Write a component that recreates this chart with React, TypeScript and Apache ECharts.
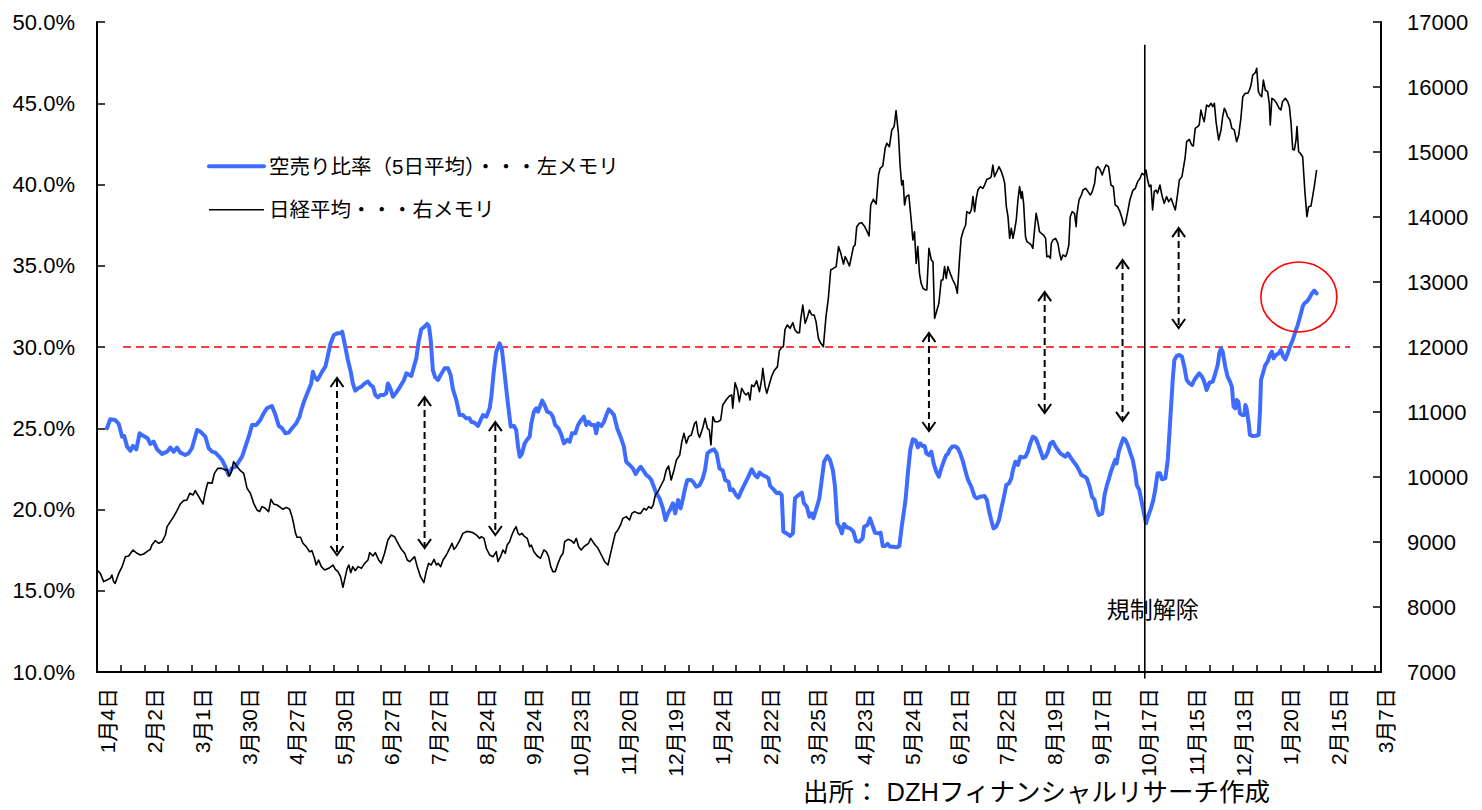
import React, { useEffect, useRef } from "react";
import * as echarts from "echarts";

const FONT = "'Liberation Sans', 'Noto Sans CJK JP', sans-serif";

const NAME_SHORT = "空売り比率（5日平均）・・・左メモリ";
const NAME_NIKKEI = "日経平均・・・右メモリ";
const SOURCE_TEXT = "出所： DZHフィナンシャルリサーチ作成";
const REG_TEXT = "規制解除";

// x axis: trading-day index (0 = 1月4日), one label every 20 trading days
const dateLabels = [
  "1月4日", "2月2日", "3月1日", "3月30日", "4月27日", "5月30日", "6月27日",
  "7月27日", "8月24日", "9月24日", "10月23日", "11月20日", "12月19日", "1月24日",
  "2月22日", "3月25日", "4月23日", "5月24日", "6月21日", "7月22日", "8月19日",
  "9月17日", "10月17日", "11月15日", "12月13日", "1月20日", "2月15日", "3月7日",
];

// 空売り比率（5日平均） [trading-day index, %]
const shortRatio: [number, number][] = [
  [4.2, 25.0], [5.6, 25.55], [7.7, 25.51], [9.2, 25.26], [10.6, 24.48], [11.5, 24.52], [12.7, 23.87], [14.1, 23.62],
  [15.2, 23.91], [16.6, 23.7], [18.0, 24.69], [19.7, 24.52], [21.4, 24.38], [22.5, 24.03], [23.9, 24.18], [25.4, 23.7],
  [27.5, 23.42], [29.6, 23.56], [31.0, 23.81], [32.4, 23.56], [33.8, 23.81], [35.2, 23.5], [37.3, 23.35], [38.7, 23.46],
  [40.1, 23.77], [42.3, 24.89], [43.7, 24.79], [45.8, 24.48], [47.2, 23.77], [48.6, 23.56], [50.0, 23.5], [51.4, 23.29],
  [52.8, 23.05], [54.2, 22.64], [55.6, 22.12], [57.0, 22.54], [58.5, 22.64], [59.9, 22.95], [61.3, 23.25], [62.7, 23.87],
  [64.1, 24.48], [65.5, 25.2], [67.3, 25.2], [69.0, 25.51], [70.4, 25.92], [71.8, 26.23], [73.9, 26.37], [75.4, 25.82],
  [76.8, 25.14], [78.2, 25.0], [79.6, 24.69], [81.0, 24.73], [82.4, 25.0], [84.2, 25.31], [85.6, 25.72], [86.3, 26.12],
  [87.7, 26.74], [89.1, 27.25], [90.5, 27.76], [91.2, 28.48], [91.9, 28.17], [93.1, 27.97], [94.1, 28.22], [95.5, 28.58],
  [96.5, 28.79], [97.6, 29.51], [98.7, 30.23], [100.1, 30.74], [101.5, 30.84], [102.9, 30.84], [103.6, 30.94], [104.6, 30.23],
  [106.0, 29.2], [107.2, 28.48], [108.1, 27.76], [109.1, 27.31], [110.3, 27.46], [111.7, 27.56], [113.1, 27.76], [114.5, 27.87],
  [115.6, 27.66], [116.6, 27.56], [117.6, 27.05], [118.7, 26.9], [119.8, 27.05], [121.2, 27.05], [122.2, 27.15], [122.9, 27.76],
  [124.1, 27.39], [125.0, 26.94], [126.4, 27.19], [127.9, 27.52], [129.7, 27.97], [130.7, 28.38], [132.8, 28.22], [133.9, 28.79],
  [134.9, 29.3], [135.9, 30.33], [137.0, 31.09], [138.4, 31.25], [139.5, 31.42], [140.3, 31.25], [141.0, 30.43], [141.9, 28.58],
  [142.9, 28.13], [144.1, 27.97], [145.2, 28.28], [146.9, 28.69], [148.3, 28.69], [149.4, 28.28], [150.4, 27.39], [151.8, 26.74],
  [153.2, 25.81], [154.6, 25.81], [156.0, 25.61], [157.4, 25.61], [158.1, 25.4], [159.5, 25.34], [161.0, 25.14], [162.1, 25.51],
  [163.1, 25.81], [164.5, 25.71], [165.9, 26.23], [166.6, 26.94], [167.7, 28.58], [168.7, 29.71], [170.1, 30.23], [171.1, 29.82],
  [171.5, 29.3], [172.5, 27.97], [173.6, 26.53], [174.8, 25.1], [176.2, 25.14], [177.1, 24.89], [177.9, 23.87], [178.6, 23.25],
  [179.5, 23.42], [180.7, 24.07], [181.8, 24.32], [182.8, 24.48], [183.5, 25.3], [184.6, 26.02], [185.6, 26.23], [186.3, 26.02],
  [187.4, 26.43], [188.1, 26.7], [189.1, 26.43], [190.2, 26.02], [191.7, 25.92], [192.6, 25.71], [193.6, 25.2], [195.0, 24.99],
  [196.2, 24.58], [197.3, 24.07], [198.7, 24.28], [199.7, 24.17], [200.7, 24.69], [202.1, 24.69], [203.2, 25.2], [204.6, 25.51],
  [205.7, 25.71], [206.7, 25.2], [207.7, 25.4], [208.8, 25.2], [210.2, 25.2], [210.9, 24.69], [211.7, 25.3], [213.1, 25.14],
  [214.2, 25.4], [215.2, 25.81], [216.2, 26.16], [217.3, 26.02], [218.4, 25.81], [219.8, 24.99], [221.2, 24.48], [222.6, 23.87],
  [223.6, 22.94], [225.0, 22.74], [226.4, 22.53], [227.6, 22.18], [228.6, 22.43], [229.7, 22.63], [230.7, 22.43], [232.1, 22.12],
  [233.1, 22.02], [234.2, 21.82], [235.0, 21.51], [236.3, 20.99], [237.7, 20.69], [239.1, 20.07], [240.2, 19.35], [241.2, 19.76],
  [242.4, 20.07], [243.3, 20.38], [244.3, 19.76], [245.5, 20.58], [246.6, 20.07], [247.6, 20.69], [248.3, 21.2], [249.4, 21.82],
  [250.8, 21.82], [251.8, 21.71], [253.2, 21.4], [254.6, 21.5], [255.9, 21.9], [256.9, 22.43], [257.9, 23.46], [259.3, 23.62],
  [260.7, 23.7], [261.8, 23.46], [263.0, 22.53], [264.4, 22.39], [265.4, 21.82], [266.8, 21.71], [267.5, 21.2], [268.6, 21.24],
  [270.0, 20.89], [271.0, 20.73], [272.4, 21.2], [273.8, 21.61], [275.2, 22.02], [276.6, 22.47], [278.0, 22.12], [279.0, 21.98],
  [279.9, 22.27], [281.3, 22.12], [282.7, 22.02], [283.7, 21.92], [284.4, 21.45], [285.8, 21.24], [287.2, 21.0], [288.3, 21.04],
  [289.3, 20.89], [290.0, 18.64], [291.4, 18.53], [292.8, 18.37], [294.0, 18.53], [294.9, 20.69], [296.4, 20.89], [297.8, 21.04],
  [298.7, 20.38], [299.9, 20.17], [301.0, 19.56], [302.0, 19.76], [302.7, 19.46], [304.1, 20.13], [305.2, 20.69], [306.2, 21.82],
  [307.2, 22.94], [308.6, 23.29], [309.7, 23.05], [310.9, 22.43], [311.8, 21.41], [312.8, 19.15], [314.0, 18.84], [314.7, 18.53],
  [315.6, 19.11], [316.8, 18.9], [318.2, 18.84], [319.6, 18.64], [320.7, 18.06], [322.1, 18.02], [323.5, 18.23], [324.1, 18.94],
  [325.5, 19.05], [326.6, 19.46], [327.8, 18.94], [328.7, 18.57], [330.2, 18.53], [331.1, 18.57], [332.0, 17.75], [333.0, 17.75],
  [334.0, 17.88], [335.1, 17.71], [336.5, 17.71], [337.9, 17.67], [339.0, 17.75], [340.0, 18.94], [341.6, 20.58], [342.6, 22.23],
  [343.6, 23.66], [344.7, 24.32], [345.9, 24.24], [346.8, 23.82], [347.8, 24.07], [348.7, 23.91], [349.7, 23.91], [350.4, 23.46],
  [351.5, 23.35], [352.5, 23.56], [353.5, 22.84], [354.6, 22.33], [355.7, 22.02], [356.7, 22.53], [357.7, 22.94], [358.8, 23.35],
  [359.5, 23.42], [360.2, 23.66], [361.3, 23.87], [362.8, 23.87], [363.7, 23.76], [364.7, 23.46], [365.9, 22.94], [367.0, 22.33],
  [368.0, 21.82], [369.4, 21.4], [370.8, 20.79], [371.8, 20.69], [373.2, 20.79], [375.0, 20.83], [376.0, 20.58], [376.8, 19.97],
  [377.8, 19.35], [378.8, 18.84], [379.9, 18.94], [381.1, 19.35], [382.1, 20.07], [383.2, 20.79], [384.2, 21.51], [385.3, 21.61],
  [386.3, 21.92], [387.0, 22.43], [388.0, 22.94], [389.1, 22.74], [390.1, 23.25], [391.2, 23.21], [392.3, 23.25], [393.3, 23.56],
  [394.3, 24.07], [395.4, 24.48], [396.6, 24.38], [397.5, 24.07], [398.5, 23.66], [399.7, 23.15], [400.8, 23.25], [401.8, 23.56],
  [402.8, 24.07], [403.9, 24.17], [405.0, 23.87], [406.0, 23.66], [407.0, 23.46], [408.1, 23.35], [409.2, 23.25], [410.2, 23.46],
  [411.6, 23.15], [412.6, 22.94], [413.7, 22.74], [414.9, 22.43], [415.9, 22.12], [417.3, 22.02], [418.2, 21.92], [419.4, 21.4],
  [420.4, 20.79], [421.5, 20.58], [422.2, 20.07], [423.3, 19.66], [424.7, 19.76], [425.7, 20.89], [426.7, 21.5], [427.4, 21.82],
  [428.4, 22.33], [429.4, 22.74], [430.2, 23.05], [430.8, 22.84], [431.7, 23.56], [432.6, 23.97], [433.6, 24.38], [434.5, 24.28],
  [435.5, 23.97], [436.4, 23.56], [437.6, 23.05], [438.7, 22.23], [439.3, 21.51], [440.4, 21.2], [441.5, 20.38], [442.5, 19.66],
  [443.2, 19.15], [444.3, 19.66], [445.3, 20.07], [446.3, 20.59], [447.1, 21.2], [448.1, 22.23], [449.1, 22.23], [450.0, 21.86],
  [451.4, 21.92], [452.4, 23.05], [453.1, 24.69], [453.8, 26.33], [454.5, 27.97], [455.2, 29.2], [456.2, 29.45], [457.3, 29.51],
  [458.4, 29.4], [459.4, 28.79], [460.4, 27.97], [461.5, 27.76], [462.6, 27.66], [463.6, 27.97], [464.6, 28.17], [465.7, 28.38],
  [466.9, 28.17], [467.8, 27.87], [468.8, 27.35], [470.0, 27.8], [471.4, 27.87], [472.5, 28.38], [473.5, 28.89], [474.2, 29.61],
  [474.9, 29.92], [475.6, 29.71], [476.7, 28.79], [477.7, 28.17], [478.7, 27.87], [479.5, 27.56], [480.2, 26.33], [480.9, 26.23],
  [481.5, 26.74], [482.2, 26.64], [482.9, 25.92], [483.8, 25.82], [484.8, 25.82], [485.2, 26.43], [485.7, 26.23], [486.6, 25.3],
  [487.1, 24.59], [488.3, 24.52], [489.7, 24.54], [490.8, 24.59], [491.4, 26.12], [491.8, 27.97], [492.8, 28.48], [493.6, 28.89],
  [494.6, 29.1], [495.6, 29.51], [496.4, 29.71], [497.1, 29.3], [498.1, 29.51], [499.3, 29.61], [500.2, 29.82], [501.2, 29.4],
  [502.1, 29.24], [503.1, 29.61], [504.0, 30.02], [505.2, 30.43], [506.3, 30.94], [507.3, 31.35], [508.3, 31.87], [509.4, 32.48],
  [510.1, 32.69], [511.1, 32.79], [512.2, 33.0], [513.3, 33.3], [514.3, 33.47], [515.3, 33.3],
];

// 日経平均 [trading-day index, 円]
const nikkei: [number, number][] = [
  [0, 8569], [1.4, 8518], [2.8, 8390], [4.2, 8415], [5.6, 8441], [6.3, 8492], [7.0, 8390], [7.7, 8364],
  [9.2, 8518], [10.6, 8621], [12.0, 8774], [13.4, 8785], [15.2, 8877], [16.9, 8826], [18.3, 8800], [19.7, 8815],
  [21.1, 8851], [22.5, 8887], [23.2, 8954], [24.6, 9021], [26.1, 8980], [27.5, 9005], [28.9, 9108], [29.6, 9236],
  [31.0, 9313], [32.4, 9390], [33.8, 9482], [35.2, 9585], [36.6, 9636], [38.0, 9646], [39.2, 9749], [40.6, 9723],
  [41.5, 9790], [43.0, 9698], [44.8, 9585], [45.8, 9774], [46.8, 9913], [48.6, 9903], [49.6, 10056], [51.0, 10133],
  [52.8, 10133], [54.2, 10108], [54.9, 10118], [55.9, 10015], [56.8, 10082], [57.7, 10236], [59.2, 10159], [60.6, 10097],
  [62.0, 10056], [63.4, 9826], [64.8, 9749], [66.2, 9595], [67.6, 9492], [68.7, 9467], [69.7, 9544], [71.1, 9518],
  [72.5, 9467], [73.5, 9656], [74.6, 9585], [76.1, 9569], [77.5, 9533], [78.6, 9503], [80.0, 9533], [81.4, 9503],
  [82.4, 9390], [83.1, 9277], [83.8, 9144], [84.5, 9072], [86.0, 9072], [87.0, 8980], [88.4, 8928], [89.8, 8851],
  [90.8, 8867], [91.9, 8749], [92.6, 8646], [93.6, 8723], [94.8, 8621], [96.2, 8569], [97.9, 8595], [99.7, 8646],
  [100.7, 8580], [101.8, 8544], [102.9, 8467], [103.9, 8303], [104.6, 8415], [105.7, 8595], [106.4, 8646], [107.2, 8528],
  [108.1, 8621], [109.1, 8559], [110.3, 8621], [111.7, 8595], [113.1, 8672], [114.5, 8723], [115.2, 8836], [116.6, 8785],
  [117.6, 8836], [119.0, 8723], [120.1, 8672], [121.5, 8826], [122.9, 9031], [124.3, 9108], [125.7, 9082], [127.2, 8980],
  [128.6, 8887], [130.0, 8826], [131.1, 8723], [132.1, 8697], [133.5, 8749], [134.2, 8774], [135.3, 8621], [136.7, 8467],
  [138.1, 8374], [139.1, 8544], [140.1, 8672], [141.2, 8646], [142.4, 8733], [143.4, 8646], [144.1, 8672], [145.2, 8621],
  [146.2, 8723], [147.6, 8800], [149.0, 8903], [150.0, 8980], [150.8, 8887], [151.8, 8928], [153.2, 9021], [154.6, 9133],
  [156.0, 9159], [157.4, 9159], [158.8, 9144], [160.3, 9108], [161.7, 9056], [162.4, 9082], [163.5, 9056], [164.5, 8903],
  [165.9, 8800], [167.3, 8774], [168.7, 8851], [169.4, 8700], [170.5, 8774], [171.5, 8877], [172.5, 8826], [173.3, 8954],
  [174.3, 9005], [175.3, 9108], [176.2, 9185], [177.1, 9236], [177.9, 9133], [178.6, 9108], [179.5, 9133], [180.7, 9082],
  [181.8, 9056], [182.8, 8928], [183.5, 8954], [184.6, 8851], [186.0, 8785], [187.4, 8749], [188.8, 8877], [189.8, 8851],
  [190.8, 8774], [191.7, 8621], [192.6, 8544], [193.6, 8544], [194.8, 8672], [195.9, 8774], [196.9, 8826], [197.6, 9005],
  [199.0, 9041], [200.4, 9021], [201.5, 8980], [202.5, 9056], [203.5, 8928], [204.6, 8877], [205.7, 8928], [206.7, 8954],
  [207.7, 8980], [208.6, 9056], [209.5, 9005], [210.5, 8954], [211.7, 8903], [213.1, 8800], [214.5, 8697], [215.9, 8646],
  [217.0, 8826], [218.0, 8980], [219.0, 9133], [220.1, 9185], [221.2, 9262], [222.2, 9364], [223.6, 9390], [225.0, 9338],
  [226.0, 9441], [227.1, 9467], [228.6, 9441], [229.7, 9441], [231.1, 9518], [232.1, 9492], [233.1, 9544], [234.2, 9518],
  [235.0, 9569], [235.9, 9723], [237.0, 9774], [238.4, 9877], [239.5, 9954], [240.5, 10108], [241.5, 10169], [242.6, 9954],
  [243.8, 10108], [244.8, 10262], [246.2, 10338], [247.1, 10544], [248.0, 10672], [249.0, 10518], [250.0, 10621], [251.1, 10646],
  [252.5, 10826], [253.2, 10851], [253.9, 10672], [254.6, 10610], [255.9, 10749], [256.9, 10903], [257.9, 10749], [258.7, 10723],
  [259.4, 10492], [260.2, 10928], [261.1, 10851], [262.5, 10851], [263.5, 10877], [264.4, 11108], [265.8, 11185], [267.2, 11246],
  [268.2, 11262], [268.6, 11057], [269.6, 11451], [270.6, 11339], [271.4, 11159], [272.4, 11364], [273.4, 11298], [274.2, 11262],
  [275.2, 11298], [275.9, 11185], [276.6, 11416], [277.6, 11390], [278.7, 11482], [279.9, 11313], [280.9, 11518], [281.3, 11672],
  [282.3, 11390], [283.0, 11287], [284.1, 11431], [285.1, 11554], [286.1, 11636], [287.5, 11698], [288.3, 11944], [289.3, 11995],
  [290.0, 12005], [290.7, 12272], [291.7, 12339], [292.8, 12287], [294.0, 12374], [294.9, 12262], [295.9, 12221], [296.8, 12221],
  [297.3, 12416], [298.2, 12646], [299.2, 12364], [300.2, 12467], [301.0, 12569], [302.0, 12492], [303.0, 12492], [303.8, 12390],
  [304.8, 12133], [305.8, 12057], [306.9, 12005], [308.0, 12467], [309.0, 12749], [310.0, 13185], [311.1, 13210], [312.3, 13236],
  [313.3, 13544], [314.2, 13451], [315.4, 13277], [316.1, 13390], [316.8, 13339], [317.9, 13246], [318.9, 13415], [319.6, 13544],
  [320.3, 13569], [321.0, 13851], [322.1, 13903], [323.1, 13913], [324.2, 13862], [325.2, 13790], [326.2, 13708], [326.9, 14185],
  [328.0, 14272], [329.2, 14200], [330.2, 14646], [330.9, 14749], [332.0, 14785], [333.0, 15056], [333.7, 15133], [334.8, 15082],
  [335.8, 15338], [336.8, 15390], [337.6, 15636], [338.6, 15287], [339.3, 14800], [340.0, 14492], [340.6, 14560], [341.2, 14185],
  [341.9, 14313], [343.0, 14338], [344.0, 13954], [344.7, 13646], [345.4, 13774], [346.1, 13287], [346.8, 13544], [347.5, 13133],
  [348.2, 12980], [349.0, 12903], [350.1, 12877], [350.6, 12877], [351.5, 13518], [352.5, 13339], [353.2, 13313], [353.9, 12441],
  [354.9, 12569], [355.7, 12672], [356.7, 13031], [357.4, 13031], [358.1, 13236], [358.8, 13056], [359.5, 13236], [360.5, 13133],
  [361.6, 13031], [362.8, 12939], [363.5, 12826], [364.4, 13339], [365.1, 13672], [366.1, 13800], [367.0, 13877], [367.5, 14082],
  [368.7, 14056], [369.4, 14108], [370.1, 14313], [370.8, 14082], [371.5, 14287], [372.2, 14415], [373.2, 14467], [374.3, 14441],
  [375.0, 14492], [376.0, 14580], [377.1, 14595], [377.8, 14620], [378.5, 14800], [379.2, 14620], [380.2, 14697], [381.1, 14774],
  [382.1, 14697], [383.0, 14595], [383.5, 14518], [384.2, 14159], [384.9, 14005], [385.6, 13672], [386.3, 13826], [387.0, 13672],
  [387.7, 13800], [388.4, 13954], [389.1, 14261], [389.8, 14467], [390.5, 14287], [390.9, 14390], [391.5, 14210], [392.3, 13697],
  [392.9, 13621], [394.0, 13595], [394.7, 13569], [395.4, 13518], [396.1, 13800], [396.8, 14056], [397.5, 13928], [398.2, 13774],
  [399.0, 13749], [399.9, 13723], [400.8, 13672], [401.3, 13390], [402.1, 13400], [402.8, 13364], [403.2, 13595], [403.9, 13646],
  [405.0, 13672], [406.0, 13595], [406.7, 13441], [407.4, 13339], [408.1, 13416], [409.2, 13390], [409.8, 13441], [410.6, 13569],
  [411.2, 14005], [412.0, 14082], [413.0, 14056], [413.7, 13851], [414.0, 14031], [414.9, 14261], [415.9, 14338], [416.6, 14415],
  [417.7, 14441], [418.7, 14390], [419.7, 14338], [420.5, 14390], [421.5, 14518], [422.2, 14749], [422.9, 14774], [423.9, 14723],
  [424.7, 14646], [425.7, 14749], [426.3, 14800], [427.4, 14774], [428.4, 14492], [429.4, 14467], [430.2, 14185], [431.2, 14159],
  [432.2, 14082], [433.1, 13980], [433.8, 13867], [434.5, 13903], [435.5, 14082], [436.4, 14262], [437.6, 14405], [438.7, 14441],
  [439.7, 14544], [440.7, 14595], [441.5, 14672], [442.5, 14646], [443.2, 14723], [443.9, 14569], [444.6, 14467], [445.3, 14492],
  [446.0, 14108], [446.7, 14390], [447.4, 14415], [448.1, 14364], [449.1, 14492], [450.0, 14323], [450.9, 14210], [451.9, 14313],
  [452.8, 14236], [453.8, 14287], [454.8, 14185], [455.6, 14108], [456.6, 14364], [457.3, 14569], [458.4, 14621], [459.1, 14774],
  [459.7, 14903], [460.4, 15159], [461.5, 15195], [462.5, 15108], [463.2, 15092], [464.0, 15364], [465.0, 15390], [465.7, 15415],
  [466.4, 15646], [467.1, 15544], [467.8, 15467], [468.8, 15723], [469.7, 15697], [470.7, 15749], [471.4, 15697], [472.1, 15749],
  [472.8, 15467], [473.9, 15185], [474.9, 15339], [475.6, 15544], [476.3, 15672], [477.0, 15621], [477.7, 15544], [478.7, 15492],
  [479.5, 15364], [480.5, 15339], [481.5, 15159], [482.4, 15262], [483.3, 15518], [484.1, 15851], [485.2, 15903], [486.2, 15903],
  [486.9, 15954], [487.6, 16031], [488.3, 16185], [489.4, 16221], [490.0, 16287], [490.7, 15928], [491.4, 15877], [492.1, 15851],
  [492.8, 16108], [493.6, 15954], [494.6, 15928], [495.3, 15749], [495.7, 15415], [496.4, 15826], [497.4, 15800], [498.4, 15749],
  [499.5, 15672], [500.2, 15646], [500.9, 15774], [502.1, 15826], [503.1, 15774], [503.8, 15697], [504.5, 15441], [505.2, 15041],
  [505.9, 15031], [506.6, 15185], [507.0, 15390], [507.7, 15005], [508.4, 14980], [509.4, 14928], [510.4, 14364], [511.2, 14005],
  [511.9, 14159], [512.9, 14169], [513.6, 14313], [514.3, 14467], [515.3, 14723],
];

// 30% reference line (left axis)
const threshold30: [number, number][] = [[11, 30], [529.5, 30]];

// double-headed dashed arrows: [index, upper %, lower %] on left axis
const arrows: [number, number, number][] = [
  [101.4, 28.09, 17.2], [138.4, 26.92, 17.63], [168.3, 25.38, 18.43],
  [351.5, 30.86, 24.83], [400.4, 33.38, 25.94], [433.3, 35.35, 25.45], [457.0, 37.32, 31.17],
];

// 規制解除 line: [index, top %, bottom %, label %]
const regulation: [number, number, number, number][] = [[442.7, 48.6, 9.6, 13.8]];

// highlight ellipse centre: [index, %]
const highlight: [number, number][] = [[507.8, 33.08]];

export default function App() {
  const ref = useRef<HTMLDivElement>(null);

  useEffect(() => {
    if (!ref.current) return;
    const chart = echarts.init(ref.current, undefined, { renderer: "svg" });

    const option: any = {
      animation: false,
      backgroundColor: "#ffffff",
      grid: { left: 97, right: 101, top: 22, bottom: 138, outerBoundsMode: "none", containLabel: false },
      legend: {
        show: true,
        orient: "vertical",
        left: 202,
        top: 151,
        itemWidth: 55,
        itemHeight: 14,
        itemGap: 23,
        selectedMode: false,
        itemStyle: { opacity: 0 },
        data: [
          { name: NAME_SHORT, itemStyle: { opacity: 0 }, lineStyle: { width: 4, color: "#3D6CFF" } },
          { name: NAME_NIKKEI, itemStyle: { opacity: 0 }, lineStyle: { width: 1.6, color: "#000" } },
        ],
        textStyle: { fontSize: 20.5, color: "#000", fontFamily: FONT },
      },
      xAxis: {
        type: "value",
        min: 0,
        max: 542.5,
        interval: 10,
        splitLine: { show: false },
        axisLine: { show: true, onZero: false, lineStyle: { color: "#000", width: 2 } },
        axisTick: { show: true, inside: true, length: 7, lineStyle: { color: "#000", width: 1.5 } },
        axisLabel: {
          show: true,
          rotate: 90,
          margin: 16,
          verticalAlign: "top",
          color: "#000",
          fontSize: 21,
          fontFamily: FONT,
          showMinLabel: true,
          showMaxLabel: true,
          hideOverlap: false,
          formatter: (v: number) => {
            const k = Math.round(v);
            if (Math.abs(v - k) > 1e-6 || k % 20 !== 0) return "";
            return dateLabels[k / 20] ?? "";
          },
        },
      },
      yAxis: [
        {
          type: "value",
          min: 10,
          max: 50,
          interval: 5,
          position: "left",
          splitLine: { show: false },
          axisLine: { show: true, lineStyle: { color: "#000", width: 2 } },
          axisTick: { show: true, inside: true, length: 8, lineStyle: { color: "#000", width: 1.5 } },
          axisLabel: {
            margin: 22,
            color: "#000",
            fontSize: 22,
            fontFamily: FONT,
            formatter: (v: number) => v.toFixed(1) + "%",
          },
        },
        {
          type: "value",
          min: 7000,
          max: 17000,
          interval: 1000,
          position: "right",
          splitLine: { show: false },
          axisLine: { show: true, lineStyle: { color: "#000", width: 2 } },
          axisTick: { show: true, inside: true, length: 8, lineStyle: { color: "#000", width: 1.5 } },
          axisLabel: {
            margin: 26,
            color: "#000",
            fontSize: 22,
            fontFamily: FONT,
            formatter: (v: number) => String(v),
          },
        },
      ],
      series: [
        {
          name: "30%",
          type: "line",
          xAxisIndex: 0,
          yAxisIndex: 0,
          data: threshold30,
          symbol: "none",
          silent: true,
          lineStyle: { color: "#FF0000", width: 1.6, type: [8, 5] },
          z: 1,
        },
        {
          name: NAME_SHORT,
          type: "line",
          xAxisIndex: 0,
          yAxisIndex: 0,
          data: shortRatio,
          symbol: "none",
          showSymbol: false,
          lineStyle: { color: "#3D6CFF", width: 4, join: "round", cap: "round" },
          itemStyle: { color: "#3D6CFF" },
          z: 2,
        },
        {
          name: NAME_NIKKEI,
          type: "line",
          xAxisIndex: 0,
          yAxisIndex: 1,
          data: nikkei,
          symbol: "none",
          showSymbol: false,
          lineStyle: { color: "#000", width: 1.6, join: "round" },
          itemStyle: { color: "#000" },
          z: 3,
        },
        {
          name: "arrows",
          type: "custom",
          xAxisIndex: 0,
          yAxisIndex: 0,
          data: arrows,
          silent: true,
          z: 4,
          renderItem: (_params: any, api: any) => {
            const x = api.value(0);
            const p1 = api.coord([x, api.value(1)]);
            const p2 = api.coord([x, api.value(2)]);
            const w = 6.5;
            const h = 9;
            const st = { stroke: "#000", lineWidth: 2, fill: "none" };
            return {
              type: "group",
              children: [
                {
                  type: "line",
                  shape: { x1: p1[0], y1: p1[1] + 2, x2: p2[0], y2: p2[1] - 2 },
                  style: { stroke: "#000", lineWidth: 2, lineDash: [7, 4] },
                },
                {
                  type: "polyline",
                  shape: { points: [[p1[0] - w, p1[1] + h], [p1[0], p1[1]], [p1[0] + w, p1[1] + h]] },
                  style: st,
                },
                {
                  type: "polyline",
                  shape: { points: [[p2[0] - w, p2[1] - h], [p2[0], p2[1]], [p2[0] + w, p2[1] - h]] },
                  style: st,
                },
              ],
            };
          },
        },
        {
          name: "regulation",
          type: "custom",
          xAxisIndex: 0,
          yAxisIndex: 0,
          data: regulation,
          silent: true,
          clip: false,
          z: 5,
          renderItem: (_params: any, api: any) => {
            const x = api.value(0);
            const pt = api.coord([x, api.value(1)]);
            const pb = api.coord([x, api.value(2)]);
            const pl = api.coord([x, api.value(3)]);
            return {
              type: "group",
              children: [
                {
                  type: "line",
                  shape: { x1: pt[0], y1: pt[1], x2: pb[0], y2: pb[1] },
                  style: { stroke: "#000", lineWidth: 1.6 },
                },
                {
                  type: "text",
                  x: pl[0] + 8,
                  y: pl[1],
                  style: {
                    text: REG_TEXT,
                    fill: "#000",
                    fontSize: 23,
                    fontFamily: FONT,
                    align: "center",
                    verticalAlign: "middle",
                  },
                },
              ],
            };
          },
        },
        {
          name: "highlight",
          type: "custom",
          xAxisIndex: 0,
          yAxisIndex: 0,
          data: highlight,
          silent: true,
          clip: false,
          z: 6,
          renderItem: (_params: any, api: any) => {
            const c = api.coord([api.value(0), api.value(1)]);
            return {
              type: "ellipse",
              shape: { cx: c[0], cy: c[1], rx: 38, ry: 35 },
              style: { stroke: "#FF0000", lineWidth: 1.6, fill: "none" },
            };
          },
        },
      ],
      graphic: [
        {
          type: "text",
          left: 803,
          top: 779,
          style: {
            text: SOURCE_TEXT,
            fill: "#000",
            fontSize: 25.5,
            fontFamily: FONT,
          },
        },
      ],
    };

    chart.setOption(option);
    return () => {
      chart.dispose();
    };
  }, []);

  return (
    <div
      ref={ref}
      style={{ position: "fixed", left: 0, top: 0, width: 1482, height: 810, background: "#fff" }}
    />
  );
}
